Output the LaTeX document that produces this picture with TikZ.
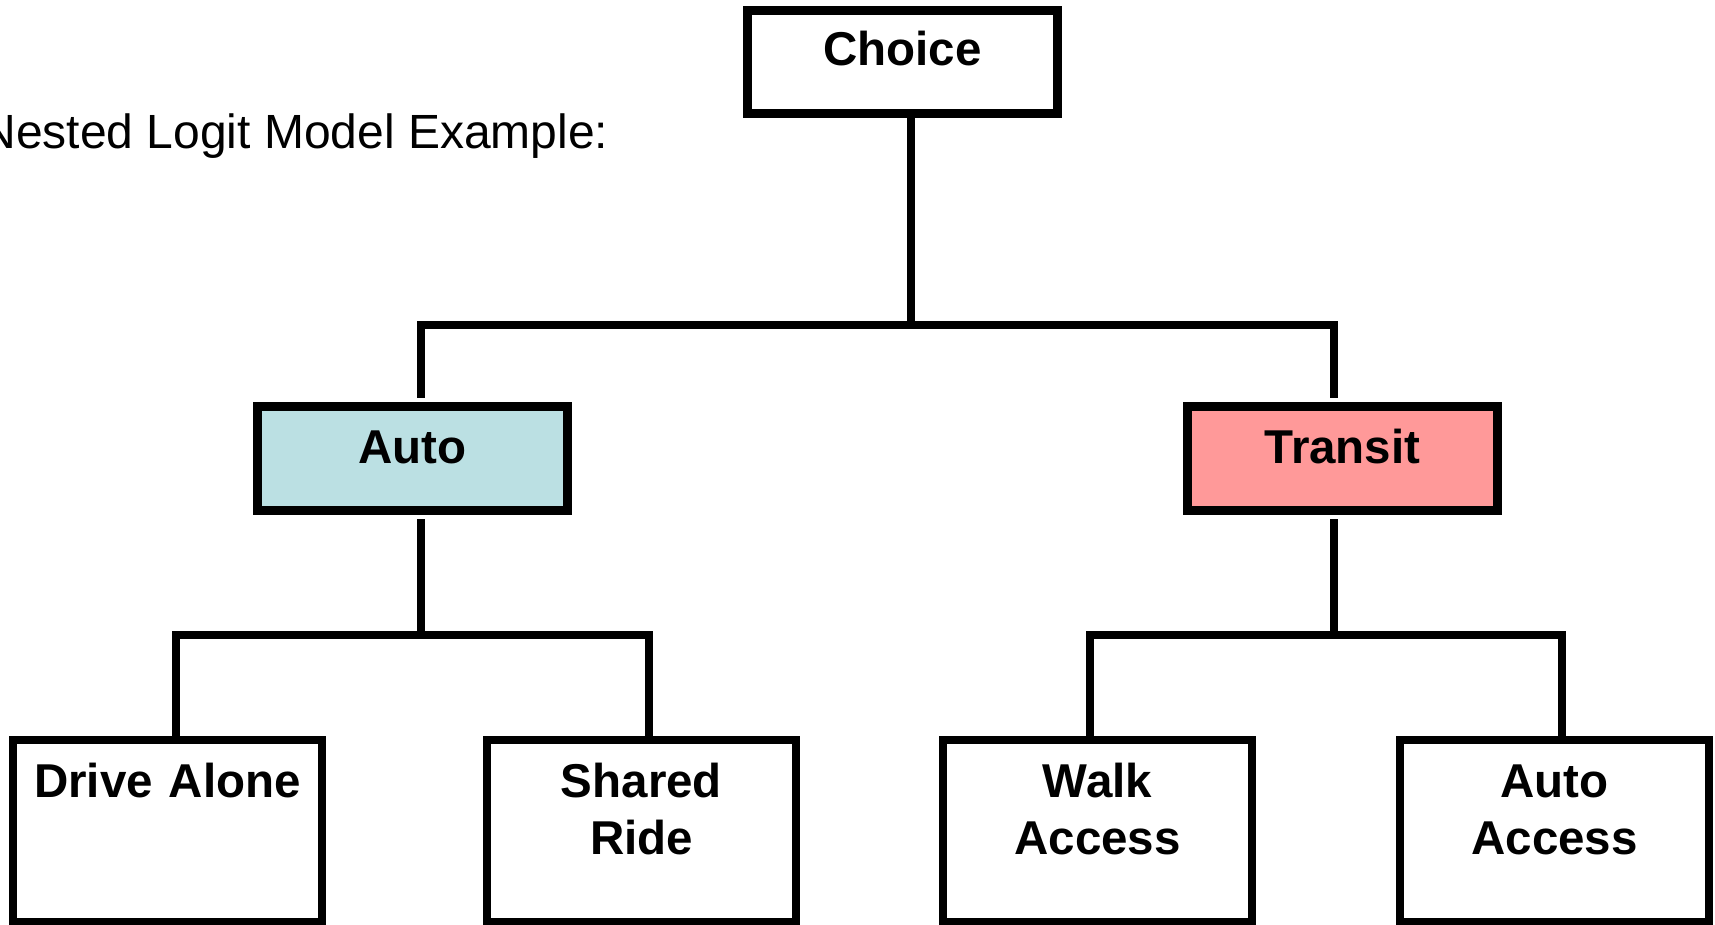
\documentclass[tikz,border=0pt]{standalone}
\usepackage{fontspec}
\setmainfont{Liberation Sans}
\definecolor{autofill}{HTML}{BBE0E3}
\definecolor{transitfill}{HTML}{FF9999}
\newcommand{\boxfont}{\fontsize{23.75pt}{28.5pt}\selectfont\bfseries}
\begin{document}
\begin{tikzpicture}[x=0.5pt,y=-0.5pt,
  box/.style={draw, line width=4.25pt, inner sep=0pt, outer sep=0pt, anchor=north,
    text width=155pt, align=center, font=\boxfont, text height=28.5pt},
  leaf/.style={box, text width=154.5pt, text height=28.5pt, text depth=62.5pt},
  conn/.style={line width=4pt, line join=miter}]
\useasboundingbox (0,0) rectangle (1715,925);

\node[anchor=base west, inner sep=0pt, font=\fontsize{24pt}{28pt}\selectfont] (title) at (-19,149) {Nested Logit Model Example:};

\node[box, text height=27.75pt, text depth=23.75pt] (choice) at (902.5,10.5) {Choice};
\node[box, fill=autofill, text height=28.75pt, text depth=23.25pt] (auto) at (412.5,406.5) {Auto};
\node[box, fill=transitfill, text height=28.75pt, text depth=23.25pt] (transit) at (1342.5,406.5) {Transit};

\node[leaf] (dl) at (167.5,740) {Drive Alone};
\node[leaf] (sr) at (641.5,740) {Shared\\Ride};
\node[leaf] (wa) at (1097.5,740) {Walk\\Access};
\node[leaf] (aa) at (1554.5,740) {Auto\\Access};

% junction coordinates
\coordinate (j0) at (911,325.5);
\coordinate (jA) at (420.5,325.5);
\coordinate (jT) at (1334,325.5);
\coordinate (j1) at (421,635);
\coordinate (j2) at (1334,635);
\coordinate (jDL) at (176,635);
\coordinate (jSR) at (649,635);
\coordinate (jWA) at (1089.5,635);
\coordinate (jAA) at (1562,635);

% top level
\draw[conn] (choice.south -| j0) -- (j0);
\draw[conn, shorten <=4.25pt, shorten >=4.25pt] (auto.north -| jA) -- (jA) -- (jT) -- (transit.north -| jT);

% auto nest
\draw[conn, shorten <=4.25pt] (auto.south -| j1) -- (j1);
\draw[conn] (dl.north -| jDL) -- (jDL) -- (jSR) -- (sr.north -| jSR);

% transit nest
\draw[conn, shorten <=4.25pt] (transit.south -| j2) -- (j2);
\draw[conn] (wa.north -| jWA) -- (jWA) -- (jAA) -- (aa.north -| jAA);
\end{tikzpicture}
\end{document}
